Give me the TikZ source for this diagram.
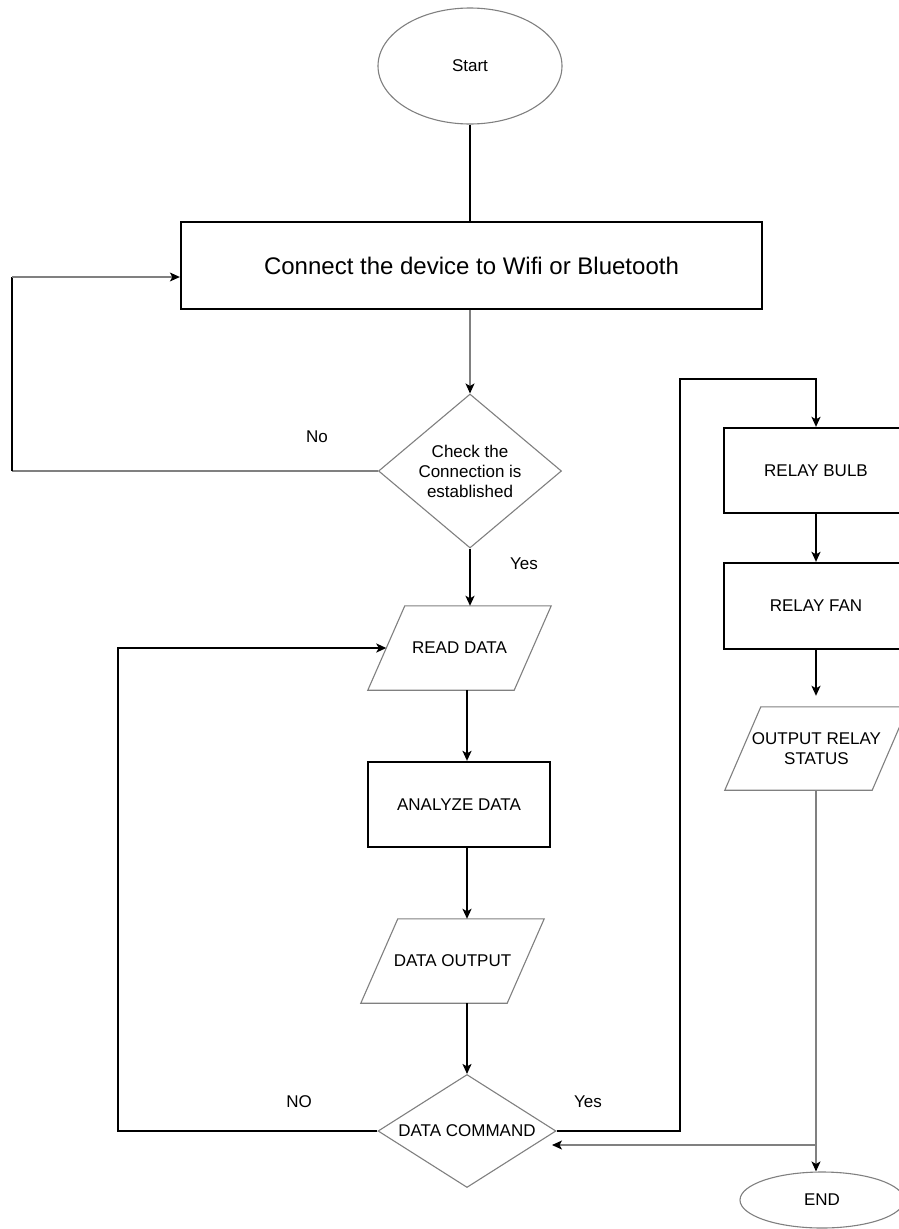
\documentclass[tikz,border=0pt]{standalone}
\usepackage{fontspec}
\setmainfont{Liberation Sans}
\usetikzlibrary{shapes.geometric,arrows.meta,calc}
\newcommand{\drawpara}[2]{\draw[thn] ($(#1.north west)+(#2,0)$) -- ($(#1.north east)+(#2,0)$) -- ($(#1.south east)-(#2,0)$) -- ($(#1.south west)-(#2,0)$) -- cycle;}
\begin{document}
\begin{tikzpicture}[x=1pt,y=-1pt,
  thk/.style={line width=2.3pt, draw=black},
  thn/.style={line width=1.1pt, draw=black!50},
  arr/.style={-{Stealth[length=10pt,width=9pt,inset=2.5pt,color=black]}},
  txt/.style={font=\fontsize{17}{20}\selectfont, align=center, inner sep=0pt},
  boxn/.style={rectangle, thk, inner sep=0pt, font=\fontsize{17}{20}\selectfont, align=center},
  para/.style={rectangle, inner sep=0pt, font=\fontsize{17}{20}\selectfont, align=center},
  diam/.style={diamond, thn, inner sep=0pt},
  ell/.style={ellipse, thn, inner sep=0pt}
]
\useasboundingbox (0,0) rectangle (899,1229);
\clip (0,0) rectangle (899,1229);
\fill[white] (0,0) rectangle (899,1229);

% nodes
\node[ell, minimum width=184, minimum height=116, txt] (start) at (470,66) {Start};
\node[boxn, minimum width=581, minimum height=87, font=\fontsize{24}{28}\selectfont] (connect) at (471.5,265.5) {Connect the device to Wifi or Bluetooth};
\node[diam, minimum width=183, minimum height=154] (check) at (470,471) {};
\node[txt] (checkt) at (check) {Check the\\Connection is\\established};
\node[para, minimum width=146, minimum height=84] (read) at (459.5,648) {READ DATA};
\node[boxn, minimum width=182, minimum height=85] (analyze) at (459,804.5) {ANALYZE DATA};
\node[para, minimum width=146, minimum height=84] (dout) at (452.5,961) {DATA OUTPUT};
\node[diam, minimum width=178, minimum height=113] (cmd) at (467,1131) {};
\node[txt] (cmdt) at (cmd) {DATA COMMAND};
\node[boxn, minimum width=184, minimum height=85] (bulb) at (816,470.5) {RELAY BULB};
\node[boxn, minimum width=184, minimum height=86] (fan) at (816,606) {RELAY FAN};
\node[para, minimum width=147, minimum height=83] (outr) at (816.5,748.5) {OUTPUT RELAY\\STATUS};
\node[ell, minimum width=164, minimum height=56, txt] (end) at (822,1200) {END};

\drawpara{read}{18.5}
\drawpara{dout}{18.5}
\drawpara{outr}{18}

% labels
\node[txt] (lno1) at (317,437) {No};
\node[txt] (lyes1) at (524,564) {Yes};
\node[txt] (lno2) at (299,1102) {NO};
\node[txt] (lyes2) at (588,1102) {Yes};

% helper coordinates
\coordinate (colx) at (467,0);
\coordinate (rcol) at (816,0);
\coordinate (nol) at (12,0);
\coordinate (noy) at (0,277);
\coordinate (NOx) at (118,0);
\coordinate (yesx) at (680,0);
\coordinate (yesy) at (0,379);
\coordinate (junc) at (816,1145);
\coordinate (rettip) at (552,1145);

% connectors
\draw[thk] (start.south) -- (start.south |- connect.north);
\draw[thn, arr] (connect.south -| check.north) -- (check.north);
\draw[thk, arr] (check.south) -- (check.south |- read.north);
\draw[thn] (check.west) -- (check.west -| nol);
\draw[thk] (check.west -| nol) -- (nol |- noy);
\draw[thn, arr] (nol |- noy) -- (connect.west |- noy);
\draw[thk, arr] (read.south -| colx) -- (analyze.north -| colx);
\draw[thk, arr] (analyze.south -| colx) -- (dout.north -| colx);
\draw[thk, arr] (dout.south -| colx) -- (cmd.north);
\draw[thk, arr] (cmd.west) -- (cmd.west -| NOx) -- (NOx |- read.west) -- (read.west);
\draw[thk, arr] (cmd.east) -- (cmd.east -| yesx) -- (yesx |- yesy) -- (bulb.north |- yesy) -- (bulb.north);
\draw[thk, arr] (bulb.south) -- (fan.north);
\draw[thk, arr, shorten >=11pt] (fan.south) -- (fan.south |- outr.north);
\draw[thn, arr] (outr.south -| rcol) -- (end.north -| rcol);
\draw[thn, arr] (junc) -- (rettip);
\end{tikzpicture}
\end{document}
